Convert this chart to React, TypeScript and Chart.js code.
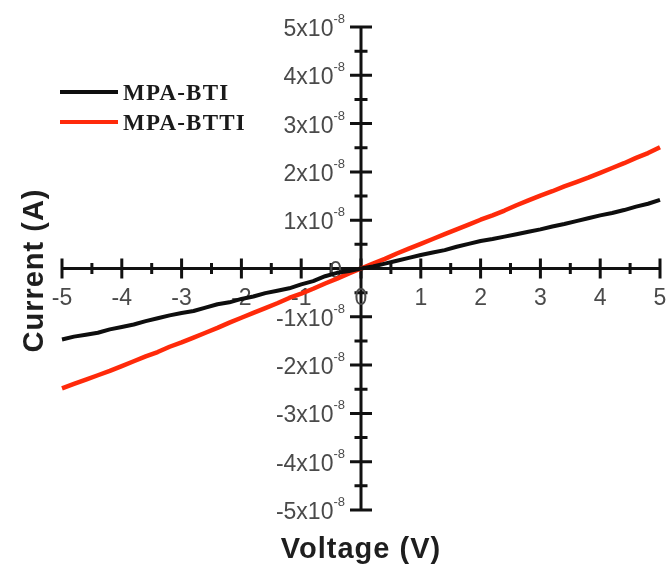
import { useEffect, useRef } from 'react';
import { Chart, registerables } from 'chart.js';

Chart.register(...registerables);

// Voltage (V)
const voltage = [
  -5.0, -4.8, -4.6, -4.4, -4.2, -4.0, -3.8, -3.6, -3.4, -3.2, -3.0, -2.8, -2.6, -2.4, -2.2, -2.0, -1.8,
  -1.6, -1.4, -1.2, -1.0, -0.8, -0.6, -0.4, -0.2, 0.0, 0.2, 0.4, 0.6, 0.8, 1.0, 1.2, 1.4, 1.6, 1.8, 2.0,
  2.2, 2.4, 2.6, 2.8, 3.0, 3.2, 3.4, 3.6, 3.8, 4.0, 4.2, 4.4, 4.6, 4.8, 5.0,
];

// Current in units of 1e-8 A
const currentBTI = [
  -1.47, -1.41, -1.37, -1.33, -1.26, -1.21, -1.16, -1.09, -1.03, -0.97, -0.92, -0.88, -0.81, -0.74, -0.7,
  -0.63, -0.58, -0.51, -0.46, -0.41, -0.33, -0.26, -0.16, -0.09, -0.05, 0.0, 0.04, 0.1, 0.16, 0.22, 0.28,
  0.33, 0.38, 0.45, 0.51, 0.57, 0.61, 0.66, 0.71, 0.76, 0.81, 0.87, 0.92, 0.98, 1.04, 1.1, 1.15, 1.21,
  1.28, 1.34, 1.42,
];

const currentBTTI = [
  -2.48, -2.39, -2.3, -2.21, -2.12, -2.02, -1.92, -1.82, -1.73, -1.62, -1.53, -1.43, -1.33, -1.23, -1.12,
  -1.02, -0.92, -0.82, -0.72, -0.61, -0.52, -0.42, -0.31, -0.21, -0.1, 0.0, 0.1, 0.2, 0.31, 0.41, 0.51,
  0.61, 0.71, 0.81, 0.91, 1.01, 1.1, 1.2, 1.31, 1.41, 1.51, 1.6, 1.7, 1.79, 1.88, 1.98, 2.08, 2.18, 2.29,
  2.39, 2.51,
];

const seriesNames = ['MPA-BTI', 'MPA-BTTI'];
const seriesColors = ['#0e0e0e', '#ff2a0a'];

const xTicks = [-5, -4, -3, -2, -1, 0, 1, 2, 3, 4, 5];
const yTicks = [-5, -4, -3, -2, -1, 0, 1, 2, 3, 4, 5];
const yExponent = '-8';
const xTitle = 'Voltage (V)';
const yTitle = 'Current (A)';

const axesPlugin = {
  id: 'crossAxes',
  beforeDatasetsDraw(chart: any) {
    const ctx = chart.ctx as CanvasRenderingContext2D;
    const xs = chart.scales.x;
    const ys = chart.scales.y;
    const x0 = xs.getPixelForValue(0);
    const y0 = ys.getPixelForValue(0);
    ctx.save();
    ctx.strokeStyle = '#111';
    ctx.lineWidth = 3;
    ctx.lineCap = 'butt';
    // axis lines
    ctx.beginPath();
    ctx.moveTo(xs.getPixelForValue(xTicks[0]), y0);
    ctx.lineTo(xs.getPixelForValue(xTicks[xTicks.length - 1]), y0);
    ctx.moveTo(x0, ys.getPixelForValue(yTicks[yTicks.length - 1]));
    ctx.lineTo(x0, ys.getPixelForValue(yTicks[0]));
    ctx.stroke();
    // ticks
    ctx.beginPath();
    xTicks.forEach((v, i) => {
      const px = xs.getPixelForValue(v);
      ctx.moveTo(px, y0 - 10);
      ctx.lineTo(px, y0 + 10);
      if (i < xTicks.length - 1) {
        const m = xs.getPixelForValue((v + xTicks[i + 1]) / 2);
        ctx.moveTo(m, y0 - 5.5);
        ctx.lineTo(m, y0 + 5.5);
      }
    });
    yTicks.forEach((v, i) => {
      const py = ys.getPixelForValue(v);
      ctx.moveTo(x0 - 11, py);
      ctx.lineTo(x0 + 11, py);
      if (i < yTicks.length - 1) {
        const m = ys.getPixelForValue((v + yTicks[i + 1]) / 2);
        ctx.moveTo(x0 - 6.5, m);
        ctx.lineTo(x0 + 6.5, m);
      }
    });
    ctx.stroke();

    // x labels
    ctx.fillStyle = '#4a4a4a';
    ctx.font = '23px "Liberation Sans", Arial, sans-serif';
    ctx.textAlign = 'center';
    ctx.textBaseline = 'alphabetic';
    xTicks.forEach((v) => {
      ctx.fillText(String(v), xs.getPixelForValue(v), y0 + 36.5);
    });

    // y labels
    yTicks.forEach((v) => {
      const py = ys.getPixelForValue(v);
      if (v === 0) {
        ctx.font = '23px "Liberation Sans", Arial, sans-serif';
        ctx.textAlign = 'right';
        ctx.fillText('0', x0 - 19, py + 9);
        return;
      }
      const main = `${v}x10`;
      ctx.font = '13px "Liberation Sans", Arial, sans-serif';
      const wSup = ctx.measureText(yExponent).width;
      ctx.textAlign = 'left';
      const right = x0 - 16;
      ctx.fillText(yExponent, right - wSup, py - 4);
      ctx.font = '23px "Liberation Sans", Arial, sans-serif';
      ctx.textAlign = 'right';
      ctx.fillText(main, right - wSup, py + 9);
    });
    ctx.restore();
  },
  afterDraw(chart: any) {
    const ctx = chart.ctx as CanvasRenderingContext2D;
    const xs = chart.scales.x;
    const ys = chart.scales.y;
    ctx.save();
    // titles
    ctx.fillStyle = '#1e1e1e';
    ctx.font = 'bold 29px "Liberation Sans", Arial, sans-serif';
    (ctx as any).letterSpacing = '1px';
    ctx.textAlign = 'center';
    ctx.textBaseline = 'alphabetic';
    ctx.fillText(xTitle, xs.getPixelForValue(0), 558);
    ctx.save();
    ctx.translate(43, ys.getPixelForValue(0) + 2);
    ctx.rotate(-Math.PI / 2);
    ctx.fillText(yTitle, 0, 0);
    ctx.restore();

    // legend
    (ctx as any).letterSpacing = '1.2px';
    ctx.font = 'bold 23px "Liberation Serif", "Times New Roman", serif';
    ctx.textAlign = 'left';
    const rows = [92, 122];
    seriesNames.forEach((name, i) => {
      ctx.strokeStyle = seriesColors[i];
      ctx.lineWidth = 4;
      ctx.beginPath();
      ctx.moveTo(60, rows[i]);
      ctx.lineTo(118, rows[i]);
      ctx.stroke();
      ctx.fillStyle = '#1a1a1a';
      ctx.fillText(name, 123, rows[i] + 8);
    });
    ctx.restore();
  },
};

export default function App() {
  const ref = useRef<HTMLCanvasElement | null>(null);
  useEffect(() => {
    if (!ref.current) return;
    const chart = new Chart(ref.current, {
      type: 'line',
      data: {
        datasets: [
          {
            label: seriesNames[0],
            data: voltage.map((v, i) => ({ x: v, y: currentBTI[i] })),
            borderColor: seriesColors[0],
            borderWidth: 4,
            pointRadius: 0,
            tension: 0,
            borderJoinStyle: 'round',
            clip: false as any,
          },
          {
            label: seriesNames[1],
            data: voltage.map((v, i) => ({ x: v, y: currentBTTI[i] })),
            borderColor: seriesColors[1],
            borderWidth: 4.5,
            pointRadius: 0,
            tension: 0,
            borderJoinStyle: 'round',
            clip: false as any,
          },
        ],
      },
      options: {
        responsive: false,
        animation: false,
        devicePixelRatio: 1,
        layout: { padding: { left: 62, right: 9, top: 27, bottom: 60 } },
        plugins: { legend: { display: false }, tooltip: { enabled: false } },
        scales: {
          x: { type: 'linear', min: -5, max: 5, display: false },
          y: { type: 'linear', min: -5, max: 5, display: false },
        },
      },
      plugins: [axesPlugin],
    });
    return () => chart.destroy();
  }, []);
  return (
    <div style={{ position: 'fixed', left: 0, top: 0, width: 669, height: 570, background: '#fff' }}>
      <canvas ref={ref} width={669} height={570} />
    </div>
  );
}
